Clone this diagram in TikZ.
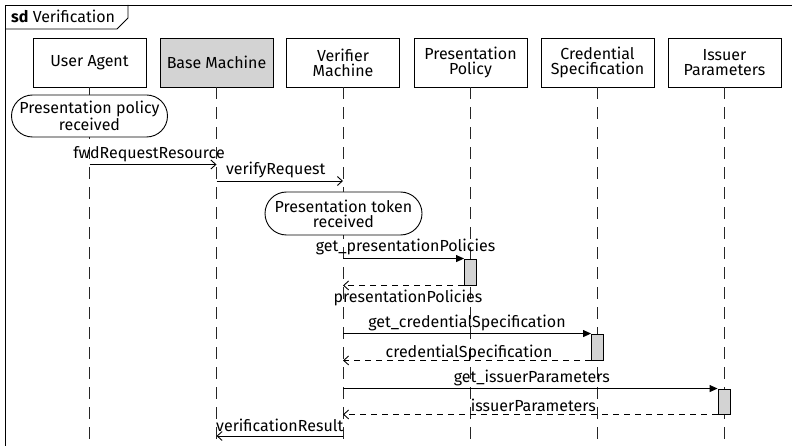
\documentclass[tikz,border=0pt]{standalone}
\usepackage{fontspec}
\setmainfont{Fira Sans}
\usetikzlibrary{arrows.meta,shapes.misc,calc}
\definecolor{actgray}{HTML}{D3D3D3}
\begin{document}
\begin{tikzpicture}[x=1pt,y=-1pt,
  txt/.style={font=\fontsize{16}{15}\selectfont},
  head/.style={txt, draw=black, line width=0.9pt, minimum width=113pt, minimum height=49pt, align=center, inner sep=1pt},
  lifeline/.style={draw=black!85, line width=0.9pt, dash pattern=on 12pt off 8pt},
  statebox/.style={txt, draw, fill=white, rounded rectangle, minimum height=42pt, align=center, inner sep=1pt, line width=0.9pt},
  actbox/.style={draw, fill=actgray, minimum width=12pt, inner sep=0pt, line width=0.9pt},
  call/.style={line width=0.9pt, -{Triangle[length=8pt,width=7pt]}},
  async/.style={line width=0.9pt, -{Straight Barb[length=5pt,width=9pt]}},
  reply/.style={async, dash pattern=on 6pt off 5pt},
  lbl/.style={txt, anchor=base, inner sep=0pt},
]
\useasboundingbox (0,0) rectangle (792,446);
\coordinate (bottom) at (0,446);

% interaction frame and its name tab
\draw[line width=0.9pt] (5,446) -- (5,5) -- (792,5);
\draw[line width=0.9pt] (5,29) -- (117,29) -- (128,18) -- (128,5);
\node[txt, anchor=base west, inner sep=0pt] (title) at (11,23) {\textbf{sd} Verification};

% lifeline heads
\node[head] (ua) at (89.5,62.5) {User Agent};
\node[head, fill=actgray] (bm) at (216.5,62.5) {Base Machine};
\node[head] (vm) at (343,62.5) {Verifier\\Machine};
\node[head] (pp) at (470.5,62.5) {Presentation\\Policy};
\node[head] (cs) at (597.5,62.5) {Credential\\Specification};
\node[head] (ip) at (724.5,62.5) {Issuer\\Parameters};

% lifelines
\foreach \n in {ua,bm,vm,pp,cs,ip}
  \draw[lifeline] (\n.south) -- (\n.south |- bottom);

% states
\node[statebox, minimum width=158pt] (ppRecv) at (89.5,116) {Presentation policy\\received};
\node[statebox, minimum width=159pt, minimum height=43pt] (ptRecv) at (343.5,213.5) {Presentation token\\received};

% activations
\node[actbox, minimum height=26pt] (ppAct) at (470.5,272) {};
\node[actbox, minimum height=26pt] (csAct) at (597.5,347) {};
\node[actbox, minimum height=25pt] (ipAct) at (724,401.5) {};

% message end points
\coordinate (uaM1) at (ua.south |- 0,164.5);
\coordinate (bmM1) at (bm.south |- 0,164.5);
\coordinate (bmM2) at (bm.south |- 0,181);
\coordinate (vmM2) at (vm.south |- 0,181);
\coordinate (vmM3) at (vm.south |- ppAct.north);
\coordinate (vmM4) at (vm.south |- ppAct.south);
\coordinate (vmM5) at (vm.south |- csAct.north);
\coordinate (vmM6) at (vm.south |- csAct.south);
\coordinate (vmM7) at (vm.south |- ipAct.north);
\coordinate (vmM8) at (vm.south |- ipAct.south);
\coordinate (vmM9) at (vm.south |- 0,436);
\coordinate (bmM9) at (bm.south |- 0,436);

% messages
\draw[async] (uaM1) -- node[lbl, yshift=6pt, xshift=-4pt] {fwdRequestResource} (bmM1);
\draw[async] (bmM2) -- node[lbl, yshift=6.5pt, xshift=-4pt] {verifyRequest} (vmM2);
\draw[call] (vmM3) -- node[lbl, yshift=7pt, xshift=2pt] {get\_presentationPolicies} (ppAct.north west);
\draw[reply] (ppAct.south west) -- node[lbl, yshift=-17pt, xshift=4.5pt] {presentationPolicies} (vmM4);
\draw[call] (vmM5) -- node[lbl, yshift=6pt] {get\_credentialSpecification} (csAct.north west);
\draw[reply] (csAct.south west) -- node[lbl, yshift=3pt, xshift=2pt] {credentialSpecification} (vmM6);
\draw[call] (vmM7) -- node[lbl, yshift=6pt, xshift=1.5pt] {get\_issuerParameters} (ipAct.north west);
\draw[reply] (ipAct.south west) -- node[lbl, yshift=3pt, xshift=3pt] {issuerParameters} (vmM8);
\draw[async] (vmM9) -- node[lbl, yshift=5pt] {verificationResult} (bmM9);
\end{tikzpicture}
\end{document}
